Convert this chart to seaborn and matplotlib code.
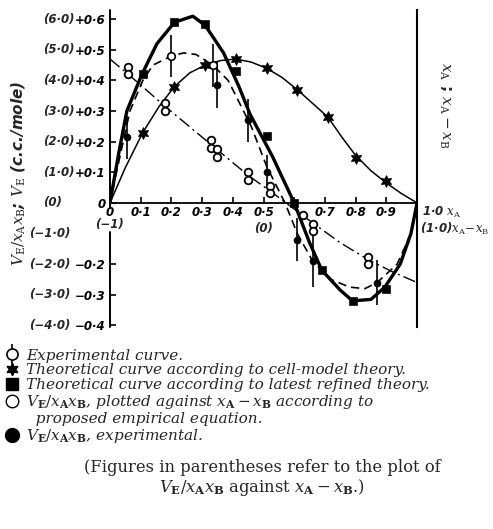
import matplotlib
matplotlib.use("Agg")
import seaborn as sns
import matplotlib.pyplot as plt
from matplotlib.lines import Line2D
from matplotlib.transforms import blended_transform_factory

# thick solid curve: latest refined theory
refined_x = [0, 0.03, 0.055, 0.104, 0.153, 0.21, 0.27, 0.31, 0.37, 0.42, 0.456, 0.53, 0.60,
             0.65, 0.69, 0.75, 0.79, 0.85, 0.895, 0.945, 0.98, 1.0]
refined_y = [0, 0.17, 0.30, 0.42, 0.52, 0.59, 0.61, 0.58, 0.49, 0.38, 0.29, 0.15, 0.0,
             -0.13, -0.22, -0.285, -0.32, -0.315, -0.275, -0.20, -0.10, 0.0]
refined_pts_x = [0.107, 0.21, 0.31, 0.41, 0.51, 0.60, 0.69, 0.79, 0.90]
refined_pts_y = [0.42, 0.59, 0.585, 0.43, 0.22, 0.0, -0.22, -0.32, -0.28]

# thin solid curve: cell-model theory
cell_x = [0, 0.05, 0.107, 0.16, 0.21, 0.26, 0.31, 0.36, 0.41, 0.46, 0.51, 0.56, 0.61, 0.66,
          0.71, 0.755, 0.80, 0.85, 0.90, 0.95, 1.0]
cell_y = [0, 0.115, 0.23, 0.315, 0.38, 0.425, 0.45, 0.465, 0.47, 0.46, 0.44, 0.41, 0.37, 0.325,
          0.28, 0.215, 0.155, 0.105, 0.065, 0.03, 0.0]
cell_pts_x = [0.107, 0.21, 0.31, 0.41, 0.51, 0.61, 0.71, 0.80, 0.90]
cell_pts_y = [0.23, 0.38, 0.45, 0.47, 0.44, 0.37, 0.28, 0.147, 0.07]

# dashed curve: experimental
exp_x = [0, 0.03, 0.065, 0.107, 0.14, 0.20, 0.24, 0.28, 0.335, 0.385, 0.43, 0.46, 0.51, 0.57,
         0.61, 0.66, 0.72, 0.78, 0.83, 0.87, 0.935, 0.98, 1.0]
exp_y = [0, 0.14, 0.30, 0.40, 0.45, 0.48, 0.49, 0.485, 0.45, 0.40, 0.31, 0.25, 0.12, 0.0,
         -0.10, -0.19, -0.25, -0.275, -0.28, -0.26, -0.20, -0.10, 0.0]
exp_open_x = [0.20, 0.335]
exp_open_y = [0.48, 0.45]
exp_open_err = [0.07, 0.07]

# filled circles: V_E/xAxB experimental
ve_x = [0.055, 0.35, 0.45, 0.51, 0.61, 0.66, 0.87]
ve_y = [0.215, 0.385, 0.27, 0.10, -0.12, -0.19, -0.26]
ve_err = [0.07, 0.075, 0.07, 0.055, 0.07, 0.085, 0.075]

# dash-dot curve: empirical equation (plotted against xA - xB)
emp_x = [0, 0.06, 0.18, 0.33, 0.45, 0.52, 0.62, 0.66, 0.75, 0.84, 0.92, 1.0]
emp_y = [0.47, 0.42, 0.315, 0.19, 0.09, 0.04, -0.035, -0.065, -0.13, -0.185, -0.225, -0.26]
emp_pts_x = [0.06, 0.06, 0.18, 0.18, 0.33, 0.33, 0.35, 0.35, 0.45, 0.45, 0.52, 0.52,
             0.63, 0.66, 0.66, 0.84, 0.84]
emp_pts_y = [0.445, 0.42, 0.325, 0.30, 0.205, 0.18, 0.175, 0.15, 0.10, 0.075, 0.055, 0.032,
             -0.04, -0.07, -0.092, -0.175, -0.198]

ytick_vals = [0.6, 0.5, 0.4, 0.3, 0.2, 0.1, 0, -0.2, -0.3, -0.4]
ytick_labels = ["+0·6", "+0·5", "+0·4", "+0·3", "+0·2", "+0·1", "0", "−0·2", "−0·3", "−0·4"]
yalt_vals = [0.6, 0.5, 0.4, 0.3, 0.2, 0.1, 0]
yalt_labels = ["(6·0)", "(5·0)", "(4·0)", "(3·0)", "(2·0)", "(1·0)", "(0)"]
yalt_neg_vals = [-0.1, -0.2, -0.3, -0.4]
yalt_neg_labels = ["(−1·0)", "(−2·0)", "(−3·0)", "(−4·0)"]
xtick_vals = [0, 0.1, 0.2, 0.3, 0.4, 0.5, 0.6, 0.7, 0.8, 0.9, 1.0]
xtick_labels = ["0", "0·1", "0·2", "0·3", "0·4", "0·5", "", "0·7", "0·8", "0·9", ""]

sns.set_theme(style="white")
plt.rcParams["mathtext.fontset"] = "dejavuserif"
plt.rcParams["font.family"] = ["DejaVu Sans"]

fig = plt.figure(figsize=(4.93, 5.29), dpi=100)
ax = fig.add_axes([0.223, 0.382, 0.623, 0.599])

tick_font = dict(fontsize=8.5, fontweight="bold", fontstyle="italic")

sns.lineplot(x=refined_x, y=refined_y, color="black", lw=2.4, sort=False, estimator=None, ax=ax)
sns.lineplot(x=cell_x, y=cell_y, color="black", lw=1.1, sort=False, estimator=None, ax=ax)
sns.lineplot(x=exp_x, y=exp_y, color="black", lw=1.2, sort=False, estimator=None, ax=ax,
             linestyle=(0, (5, 3)))
sns.lineplot(x=emp_x, y=emp_y, color="black", lw=1.0, sort=False, estimator=None, ax=ax,
             linestyle=(0, (9, 3, 1.5, 3)))

ax.errorbar(ve_x, ve_y, yerr=ve_err, fmt="none", ecolor="black", elinewidth=1.2, capsize=0)
ax.errorbar(exp_open_x, exp_open_y, yerr=exp_open_err, fmt="none", ecolor="black",
            elinewidth=1.2, capsize=0)

sns.scatterplot(x=refined_pts_x, y=refined_pts_y, marker="s", color="black", s=34,
                edgecolor="black", ax=ax, zorder=5)
sns.scatterplot(x=cell_pts_x, y=cell_pts_y, marker=(6, 1, 0), color="black", s=70,
                edgecolor="black", ax=ax, zorder=5)
sns.scatterplot(x=ve_x, y=ve_y, marker="o", color="black", s=26, edgecolor="black", ax=ax, zorder=5)
sns.scatterplot(x=exp_open_x, y=exp_open_y, marker="o", facecolor="white", s=30,
                edgecolor="black", linewidth=1.2, ax=ax, zorder=5)
sns.scatterplot(x=emp_pts_x, y=emp_pts_y, marker="o", facecolor="white", s=30,
                edgecolor="black", linewidth=1.3, ax=ax, zorder=5)

ax.set_xlim(0, 1.0)
ax.set_ylim(-0.405, 0.63)
for side in ["top", "left"]:
    ax.spines[side].set_visible(False)
ax.spines["bottom"].set_position(("data", 0))
ax.spines["bottom"].set_linewidth(1.3)
ax.spines["right"].set_linewidth(1.5)
for sp in ax.spines.values():
    sp.set_color("black")
# left axis with a gap where the zero labels sit
ax.axvline(0, ymin=(-0.015 + 0.405) / 1.035, ymax=1, color="black", lw=1.4, clip_on=False)
ax.axvline(0, ymin=0, ymax=(-0.095 + 0.405) / 1.035, color="black", lw=1.4, clip_on=False)

ax.set_yticks(ytick_vals)
ax.set_yticklabels(ytick_labels, **tick_font)
ax.set_xticks(xtick_vals)
ax.set_xticklabels(xtick_labels, **tick_font)
ax.tick_params(axis="y", left=True, direction="in", length=4, width=1.2, pad=3, colors="black")
ax.tick_params(axis="x", bottom=True, direction="in", length=4, width=1.2, pad=2, colors="black")
ax.set_xlabel("")
ax.set_ylabel("")

trans = blended_transform_factory(fig.transFigure, ax.transData)
for v, lab in zip(yalt_vals, yalt_labels):
    ax.text(43 / 493, v, lab, transform=trans, ha="left", va="center", **tick_font)
for v, lab in zip(yalt_neg_vals, yalt_neg_labels):
    ax.text(70 / 493, v, lab, transform=trans, ha="right", va="center", **tick_font)

ax.text(0, -0.072, "(−1)", ha="center", va="center", **tick_font)
ax.text(0.5, -0.085, "(0)", ha="center", va="center", **tick_font)
ax.text(1.015, -0.032, r"1·0 $\mathit{x}_\mathrm{A}$", ha="left", va="center", **tick_font)
ax.text(1.01, -0.085, r"(1·0)$\mathit{x}_\mathrm{A}\!-\!\mathit{x}_\mathrm{B}$", ha="left",
        va="center", **tick_font)

fig.text(18 / 493, 1 - 173 / 529, r"$V_\mathrm{E}/x_\mathrm{A}x_\mathrm{B}$; $V_\mathrm{E}$ (c.c./mole)",
         rotation=90, ha="center", va="center", fontsize=11, fontweight="bold", fontstyle="italic")
fig.text(445 / 493, 1 - 105 / 529, r"$x_\mathrm{A}$ ; $x_\mathrm{A}-x_\mathrm{B}$",
         rotation=-90, ha="center", va="center", fontsize=11, fontweight="bold")

handles = [
    (Line2D([], [], marker="|", markersize=15, color="black", ls="none", mew=1.2),
     Line2D([], [], marker="o", mfc="white", mec="black", ms=8, ls="none", mew=1.2)),
    Line2D([], [], marker=(6, 1, 0), color="black", ms=9, ls="none"),
    Line2D([], [], marker="s", color="black", ms=8, ls="none"),
    Line2D([], [], marker="o", mfc="white", mec="black", ms=9, ls="none", mew=1.0),
    Line2D([], [], ls="none"),
    Line2D([], [], marker="o", color="black", ms=10, ls="none"),
]
labels = [
    "Experimental curve.",
    "Theoretical curve according to cell-model theory.",
    "Theoretical curve according to latest refined theory.",
    r"$V_\mathbf{E}/x_\mathbf{A}x_\mathbf{B}$, plotted against $x_\mathbf{A}-x_\mathbf{B}$ according to",
    "  proposed empirical equation.",
    r"$V_\mathbf{E}/x_\mathbf{A}x_\mathbf{B}$, experimental.",
]
fig.legend(handles, labels, loc="upper left", bbox_to_anchor=(0.005, 1 - 347 / 529),
           frameon=False, prop=dict(family="DejaVu Serif", style="italic", size=11.0),
           handlelength=1.0, handletextpad=0.45, labelspacing=0.06, borderaxespad=0,
           borderpad=0.1)

fig.text(262 / 493, 1 - 468 / 529, "(Figures in parentheses refer to the plot of",
         ha="center", va="center", family="DejaVu Serif", fontsize=11.8)
fig.text(262 / 493, 1 - 487 / 529,
         r"$V_\mathbf{E}/x_\mathbf{A}x_\mathbf{B}$ against $x_\mathbf{A}-x_\mathbf{B}$.)",
         ha="center", va="center", family="DejaVu Serif", fontsize=11.8)

fig.savefig("out.png", dpi=100)
